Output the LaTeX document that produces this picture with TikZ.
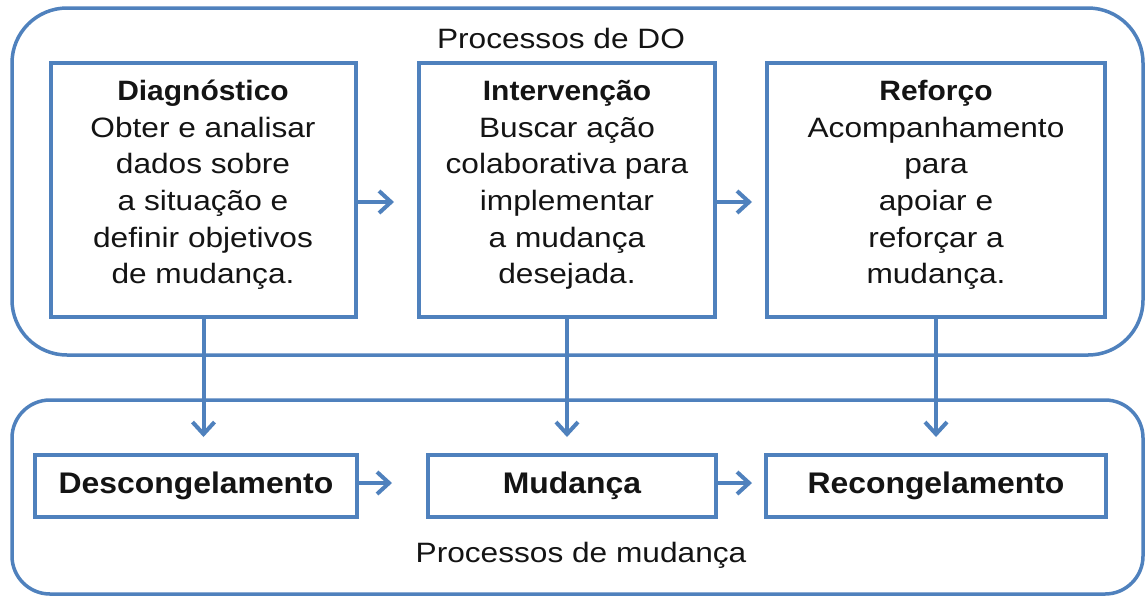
\documentclass[tikz,border=0pt]{standalone}
\usepackage{fontspec}
\setmainfont{Liberation Sans}[FakeStretch=1.13, BoldFeatures={FakeStretch=1.07}]
\usetikzlibrary{arrows.meta}
\definecolor{dblue}{RGB}{79,129,189}
\definecolor{ink}{RGB}{20,20,20}
\begin{document}
\begin{tikzpicture}[x=1pt,y=-1pt,
  group/.style={draw=dblue, line width=3.5pt, rounded corners=#1, inner sep=0pt, outer sep=0pt},
  stagebox/.style={draw=dblue, line width=4pt, fill=white, inner sep=0pt, outer sep=0pt},
  txt/.style={inner sep=0pt, align=center, text=ink, font=\fontsize{28}{36.6}\selectfont},
  phase/.style={stagebox, txt, minimum height=62pt, font=\fontsize{29.8}{36.6}\selectfont\bfseries},
  arr/.style={draw=dblue, line width=4pt, -{Straight Barb[length=12pt,width=22pt]}}]
\useasboundingbox[fill=white] (0,0) rectangle (1147,598);

% group frames
\node[group=55, minimum width=1131pt, minimum height=347pt] (gDO) at (577.5,181.5) {};
\node[group=38, minimum width=1131pt, minimum height=194pt] (gMu) at (577.5,497) {};
\node[txt, anchor=base] (lDO) at (561,48) {Processos de DO};
\node[txt, anchor=base] (lMu) at (581,562) {Processos de mudança};

% DO process boxes
\node[stagebox, minimum width=305pt, minimum height=254pt] (d1) at (203.5,190) {};
\node[stagebox, minimum width=296pt, minimum height=254pt] (d2) at (567,190) {};
\node[stagebox, minimum width=338pt, minimum height=254pt] (d3) at (936,190) {};
\node[txt, anchor=north] (t1) at (203,74.5) {\rule{0pt}{26pt}\textbf{Diagnóstico}\\Obter e analisar\\dados sobre\\a situação e\\definir objetivos\\de mudança.};
\node[txt, anchor=north] (t2) at (567,74.5) {\rule{0pt}{26pt}\textbf{Intervenção}\\Buscar ação\\colaborativa para\\implementar\\a mudança\\desejada.};
\node[txt, anchor=north] (t3) at (936,74.5) {\rule{0pt}{26pt}\textbf{Reforço}\\Acompanhamento\\para\\apoiar e\\reforçar a\\mudança.};

% change process boxes
\node[phase, minimum width=322pt] (m1) at (196,486) {Descongelamento};
\node[phase, minimum width=288pt] (m2) at (572,486) {Mudança};
\node[phase, minimum width=340pt] (m3) at (936,486) {Recongelamento};

% arrows
\draw[arr, shorten >=25pt] ([yshift=-12pt]d1.east) -- ([yshift=-12pt]d2.west);
\draw[arr, shorten >=15pt] ([yshift=-12pt]d2.east) -- ([yshift=-12pt]d3.west);
\draw[arr, shorten >=18pt] (d1.south) -- (d1.south |- m1.north);
\draw[arr, shorten >=18pt] (d2.south) -- (d2.south |- m2.north);
\draw[arr, shorten >=18pt] (d3.south) -- (d3.south |- m3.north);
\draw[arr, shorten >=36pt] ([yshift=3pt]m1.east) -- ([yshift=3pt]m2.west);
\draw[arr, shorten >=14pt] ([yshift=3pt]m2.east) -- ([yshift=3pt]m3.west);
\end{tikzpicture}
\end{document}
